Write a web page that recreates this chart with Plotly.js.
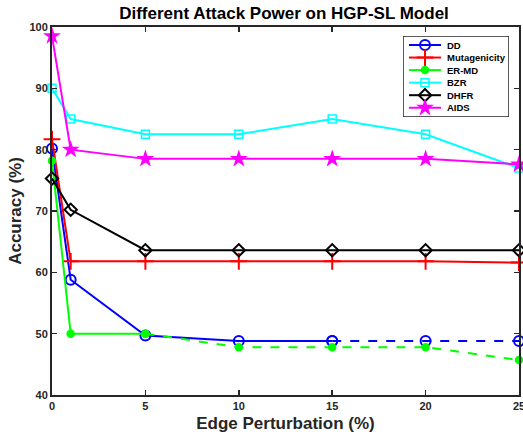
<!DOCTYPE html>
<html>
<head>
<meta charset="utf-8">
<script src="https://cdn.plot.ly/plotly-3.0.1.min.js"></script>
<style>html,body{margin:0;padding:0;background:#fff;}#chart{width:523px;height:439px;}</style>
</head>
<body>
<div id="chart"></div>
<script>
// ---- data ----
const perturbation = [0, 1, 5, 10, 15, 20, 25];
const seriesNames = ["DD", "Mutagenicity", "ER-MD", "BZR", "DHFR", "AIDS"];
const DD = [80.2, 58.8, 49.7, 48.8, 48.8, 48.8, 48.8];
const Mutagenicity = [81.7, 61.8, 61.8, 61.8, 61.8, 61.8, 61.6];
const ERMD = [78.2, 50.0, 50.0, 47.8, 47.8, 47.8, 45.7];
const BZR = [90.0, 85.0, 82.5, 82.5, 85.0, 82.5, 77.0];
const DHFR = [75.3, 70.2, 63.6, 63.6, 63.6, 63.6, 63.6];
const AIDS = [98.5, 80.0, 78.5, 78.5, 78.5, 78.5, 77.6];
// index after which a series is drawn dashed (-1 = never)
const dashFrom = {"DD": 4, "Mutagenicity": -1, "ER-MD": 2, "BZR": -1, "DHFR": -1, "AIDS": -1};
const xTicks = [0, 5, 10, 15, 20, 25];
const yTicks = [40, 50, 60, 70, 80, 90, 100];

// ---- styles ----
const values = [DD, Mutagenicity, ERMD, BZR, DHFR, AIDS];
const colors = ["#0000FF", "#FF0000", "#00FF00", "#00FFFF", "#000000", "#FF00FF"];
const markers = [
  {symbol: "circle-open", size: 10, line: {width: 2}},
  {symbol: "cross-thin-open", size: 12, line: {width: 2}},
  {symbol: "circle", size: 7, line: {width: 1.5}},
  {symbol: "square-open", size: 8, line: {width: 1.5}},
  {symbol: "diamond-open", size: 9.5, line: {width: 2}},
  {symbol: "star", size: 13.5, line: {width: 0}}
];

const traces = [];
seriesNames.forEach((name, i) => {
  const c = colors[i];
  const mk = Object.assign({}, markers[i], {color: c, line: Object.assign({}, markers[i].line, {color: c})});
  const d = dashFrom[name];
  const endSolid = d < 0 ? perturbation.length - 1 : d;
  traces.push({
    x: perturbation.slice(0, endSolid + 1), y: values[i].slice(0, endSolid + 1),
    mode: "lines+markers", name: name, showlegend: false,
    line: {color: c, width: 2}, marker: mk, cliponaxis: false
  });
  if (d >= 0) {
    traces.push({
      x: perturbation.slice(d), y: values[i].slice(d),
      mode: "lines+markers", name: name, showlegend: false,
      line: {color: c, width: 2, dash: "dash"}, marker: mk, cliponaxis: false
    });
  }
});

// ---- custom legend (own small axis) ----
const legTop = 45, legStep = 12.55;
seriesNames.forEach((name, i) => {
  const c = colors[i];
  const mk = Object.assign({}, markers[i], {color: c, line: Object.assign({}, markers[i].line, {color: c})});
  const yy = legTop + i * legStep;
  traces.push({
    x: [409, 441], y: [yy, yy], xaxis: "x2", yaxis: "y2",
    mode: "lines", showlegend: false, hoverinfo: "skip",
    line: {color: c, width: 2}
  });
  traces.push({
    x: [425], y: [yy], xaxis: "x2", yaxis: "y2",
    mode: "markers", showlegend: false, hoverinfo: "skip", marker: mk
  });
});
const annotations = seriesNames.map((name, i) => ({
  x: 445, y: legTop + i * legStep, xref: "x2", yref: "y2", text: name, showarrow: false,
  xanchor: "left", yanchor: "middle", font: {family: "Liberation Sans, Arial", size: 9.5, weight: "bold", color: "#000"}
}));

const W = 523, H = 439, L = 52, R = 4, T = 27, B = 44;
const pw = W - L - R, ph = H - T - B;
const lx0 = 403, lx1 = 509, ly0 = 36, ly1 = 117;

const tickFont = {family: "Liberation Sans, Arial", size: 11, weight: "bold", color: "#262626"};
const layout = {
  width: W, height: H,
  margin: {l: L, r: R, t: T, b: B, pad: 0},
  paper_bgcolor: "#fff", plot_bgcolor: "#fff",
  showlegend: false,
  title: {text: "Different Attack Power on HGP-SL Model", x: 0.543, xanchor: "center", y: 0.971, yanchor: "middle",
          font: {family: "Liberation Sans, Arial", size: 17, weight: "bold", color: "#000"}},
  xaxis: {range: [0, 25], tickvals: xTicks, ticktext: xTicks.map(String), showgrid: false, zeroline: false,
          showline: true, mirror: "ticks", linecolor: "#262626", linewidth: 2, ticks: "inside", ticklen: 5,
          tickwidth: 1.5, tickcolor: "#262626", tickfont: tickFont, ticklabeloverflow: "allow",
          title: {text: "Edge Perturbation (%)", standoff: 6, font: {family: "Liberation Sans, Arial", size: 17, weight: "bold", color: "#262626"}}},
  yaxis: {range: [40, 100], tickvals: yTicks, ticktext: yTicks.map(String), showgrid: false, zeroline: false,
          showline: true, mirror: "ticks", linecolor: "#262626", linewidth: 2, ticks: "inside", ticklen: 5,
          tickwidth: 1.5, tickcolor: "#262626", tickfont: tickFont,
          title: {text: "Accuracy (%)", standoff: 3, font: {family: "Liberation Sans, Arial", size: 17, weight: "bold", color: "#262626"}}},
  xaxis2: {domain: [(lx0 - L) / pw, (lx1 - L) / pw], range: [lx0, lx1], anchor: "y2", visible: false, fixedrange: true},
  yaxis2: {domain: [(H - B - ly1) / ph, (H - B - ly0) / ph], range: [ly1, ly0], anchor: "x2", visible: false, fixedrange: true},
  shapes: [{type: "rect", xref: "x2", yref: "y2", x0: lx0, x1: lx1, y0: ly0, y1: ly1,
            line: {color: "#262626", width: 1.5}, fillcolor: "#fff", layer: "below"}],
  annotations: annotations
};

Plotly.newPlot("chart", traces, layout, {displayModeBar: false, staticPlot: true});
</script>
</body>
</html>
